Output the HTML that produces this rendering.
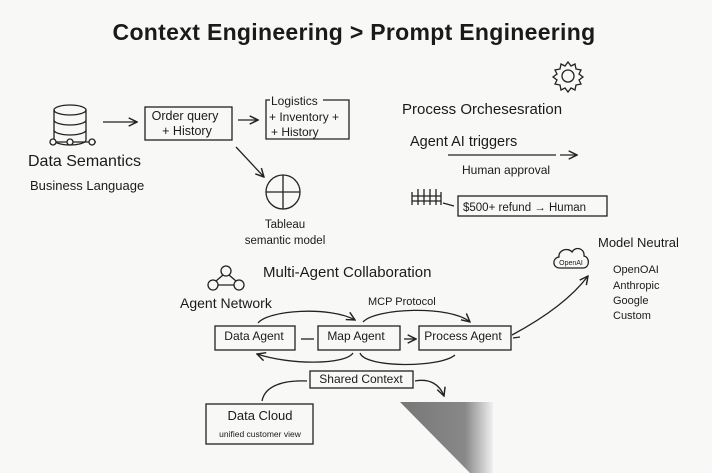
<!DOCTYPE html>
<html><head><meta charset="utf-8"><style>
html,body{margin:0;padding:0;background:#f8f8f7;}
svg{display:block;font-family:"Liberation Sans",sans-serif;}
</style></head><body>
<svg width="712" height="473" viewBox="0 0 712 473" xmlns="http://www.w3.org/2000/svg">
<defs>
<marker id="a" viewBox="0 0 10 10" refX="9" refY="5" markerWidth="8" markerHeight="8" orient="auto"><path d="M1,1 L9,5 L1,9" fill="none" stroke="#222" stroke-width="1.4"/></marker>
<linearGradient id="g" x1="0" y1="0" x2="1" y2="0"><stop offset="0" stop-color="#777"/><stop offset="0.7" stop-color="#888"/><stop offset="1" stop-color="#f0f0f0"/></linearGradient>
</defs>
<rect width="712" height="473" fill="#f8f8f7"/>
<g fill="#1a1a1a" stroke="none">
<text x="354" y="40" font-size="23" text-anchor="middle" font-weight="bold" letter-spacing="0.3">Context Engineering &gt; Prompt Engineering</text>
<text x="28" y="166" font-size="16">Data Semantics</text>
<text x="30" y="190" font-size="13">Business Language</text>
<text x="185" y="120" font-size="12.5" text-anchor="middle">Order query</text>
<text x="187" y="135" font-size="12.5" text-anchor="middle">+ History</text>
<text x="271" y="105" font-size="12">Logistics</text>
<text x="269" y="121" font-size="12">+ Inventory +</text>
<text x="271" y="136" font-size="12">+ History</text>
<text x="285" y="228" font-size="11.5" text-anchor="middle">Tableau</text>
<text x="285" y="244" font-size="11.5" text-anchor="middle">semantic model</text>
<text x="402" y="114" font-size="15">Process Orchesesration</text>
<text x="410" y="146" font-size="14.5">Agent  AI triggers</text>
<text x="462" y="174" font-size="12">Human approval</text>
<text x="463" y="211" font-size="11.5">$500+ refund → Human</text>
<text x="598" y="247" font-size="13">Model Neutral</text>
<text x="571" y="265" font-size="7" text-anchor="middle">OpenAI</text>
<text x="613" y="273" font-size="11">OpenOAI</text>
<text x="613" y="289" font-size="11">Anthropic</text>
<text x="613" y="304" font-size="11">Google</text>
<text x="613" y="319" font-size="11">Custom</text>
<text x="263" y="277" font-size="15">Multi-Agent Collaboration</text>
<text x="180" y="308" font-size="14">Agent Network</text>
<text x="368" y="305" font-size="11">MCP Protocol</text>
<text x="254" y="340" font-size="12" text-anchor="middle">Data Agent</text>
<text x="356" y="340" font-size="12" text-anchor="middle">Map Agent</text>
<text x="463" y="340" font-size="12" text-anchor="middle">Process Agent</text>
<text x="361" y="383" font-size="12" text-anchor="middle">Shared Context</text>
<text x="260" y="420" font-size="13" text-anchor="middle">Data Cloud</text>
<text x="260" y="437" font-size="8.5" text-anchor="middle">unified customer view</text>
</g>
<g fill="none" stroke="#222" stroke-width="1.3">
<!-- database -->
<ellipse cx="70" cy="110" rx="16" ry="5"/>
<path d="M54,110 V140 A16,5 0 0 0 86,140 V110 M54,120 A16,5 0 0 0 86,120 M54,130 A16,5 0 0 0 86,130"/>
<path d="M56,142 H96 M70,142 V142" />
<line x1="70" y1="145" x2="70" y2="142"/>
<circle cx="53" cy="142" r="3" fill="#f8f8f7"/><circle cx="70" cy="142" r="3" fill="#f8f8f7"/><circle cx="92" cy="142" r="3" fill="#f8f8f7"/>
<line x1="103" y1="122" x2="137" y2="122" marker-end="url(#a)"/>
<rect x="145" y="107" width="87" height="33"/>
<line x1="238" y1="120" x2="258" y2="120" marker-end="url(#a)"/>
<path d="M270,100 H266 V139 H349 V100 H323"/>
<line x1="236" y1="147" x2="264" y2="177" marker-end="url(#a)"/>
<circle cx="283" cy="192" r="17"/>
<path d="M283,175 V209 M266,192 H300"/>
<!-- gear -->
<circle cx="568" cy="76" r="6"/>
<path d="M568,62 l3,4 4,-2 1,5 5,1 -2,4 4,3 -4,3 2,4 -5,1 -1,5 -4,-2 -3,4 -3,-4 -4,2 -1,-5 -5,-1 2,-4 -4,-3 4,-3 -2,-4 5,-1 1,-5 4,2 z"/>
<path d="M448,155 H556" /><line x1="560" y1="155" x2="577" y2="155" marker-end="url(#a)"/>
<!-- fence -->
<path d="M412,192 V205 M418,189 V205 M424,189 V205 M430,189 V205 M436,189 V205 M441,192 V205 M412,196 H441 M412,201 H441 M443,203 L454,206"/>
<rect x="458" y="196" width="149" height="20"/>
<!-- cloud -->
<path d="M560,268 C552,268 552,258 559,257 C558,250 568,247 572,252 C575,246 585,248 584,256 C590,257 590,268 583,268 Z"/>
<path d="M512,335 C540,320 570,300 588,276" marker-end="url(#a)"/>
<!-- agent network icon -->
<circle cx="226" cy="271" r="5"/><circle cx="213" cy="285" r="5"/><circle cx="239" cy="285" r="5"/>
<path d="M223,275 L216,281 M229,275 L236,281 M218,285 H234"/>
<rect x="215" y="326" width="80" height="24"/>
<rect x="318" y="326" width="82" height="24"/>
<rect x="419" y="326" width="92" height="24"/>
<line x1="301" y1="339" x2="314" y2="339"/>
<line x1="404" y1="339" x2="416" y2="339" marker-end="url(#a)"/>
<line x1="513" y1="338" x2="520" y2="337"/>
<path d="M258,323 C268,310 330,306 355,320" marker-end="url(#a)"/>
<path d="M363,322 C375,308 450,305 470,322" marker-end="url(#a)"/>
<path d="M353,353 C345,365 290,365 257,354" marker-end="url(#a)"/>
<path d="M360,353 C365,368 440,368 455,355"/>
<rect x="310" y="371" width="103" height="17"/>
<path d="M415,381 C430,378 440,385 444,396" marker-end="url(#a)"/>
<path d="M307,381 C285,380 265,385 262,401"/>
<rect x="206" y="404" width="107" height="40"/>
</g>
<polygon points="400,402 493,402 493,473 470,473" fill="url(#g)"/>
</svg>
</body></html>
